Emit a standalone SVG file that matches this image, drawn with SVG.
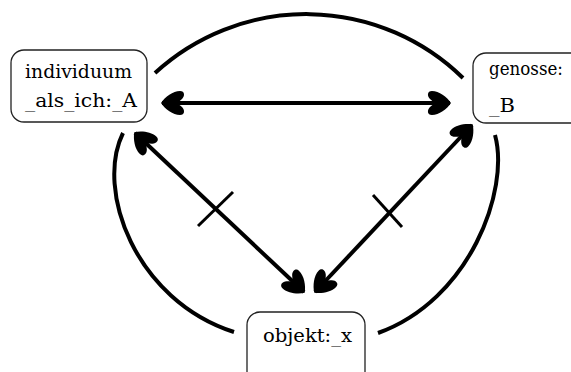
<svg xmlns="http://www.w3.org/2000/svg" width="571" height="372" viewBox="0 0 571 372">
<style>
.box{fill:#fff;stroke:#222;stroke-width:1.3}
.lbl{font-family:"DejaVu Serif","Liberation Serif",serif;font-size:19px;fill:#000}
.arc{fill:none;stroke:#000;stroke-width:4;stroke-linecap:butt}
.arr{fill:none;stroke:#000;stroke-width:4;marker-start:url(#head);marker-end:url(#head)}
.tick{fill:none;stroke:#000;stroke-width:3}
</style>
<defs>
<marker id="head" markerUnits="userSpaceOnUse" markerWidth="28" markerHeight="28" viewBox="0 0 28 28" refX="25" refY="14" orient="auto-start-reverse">
<path d="M26,14 C22,8 14,2 7,2 C2,2 2,7 5,10 C7,12 9,13 9,14 C9,15 7,16 5,18 C2,21 2,26 7,26 C14,26 22,20 26,14 Z" fill="#000"/>
</marker>
</defs>
<rect width="571" height="372" fill="#fff"/>
<g id="connectors">
<path class="arc" d="M155,73 A224,224 0 0 1 463,78"/>
<path class="arc" d="M123,133 C95,190 135,300 234,332"/>
<path class="arc" d="M495,135 C510,190 470,300 378,333"/>
<path class="arr" d="M162,103 L450,103"/>
<path class="arr" d="M135,133 L304,292"/>
<path class="arr" d="M472,125 L315,292"/>
<path class="tick" d="M198,226 L233,192"/>
<path class="tick" d="M373,195 L402,227"/>
</g>
<g id="node-A">
<rect class="box" x="11" y="50" width="136" height="72" rx="13"/>
<text class="lbl" x="25" y="78" textLength="107" lengthAdjust="spacingAndGlyphs">individuum</text>
<text class="lbl" x="25" y="107" textLength="112" lengthAdjust="spacingAndGlyphs">_als_ich:_A</text>
</g>
<g id="node-B">
<rect class="box" x="473" y="53" width="120" height="70" rx="13"/>
<text class="lbl" x="489" y="75" textLength="74" lengthAdjust="spacingAndGlyphs">genosse:</text>
<text class="lbl" x="489" y="112" textLength="26" lengthAdjust="spacingAndGlyphs">_B</text>
</g>
<g id="node-x">
<rect class="box" x="247" y="312" width="118" height="80" rx="13"/>
<text class="lbl" x="263" y="342" textLength="89" lengthAdjust="spacingAndGlyphs">objekt:_x</text>
</g>
</svg>
